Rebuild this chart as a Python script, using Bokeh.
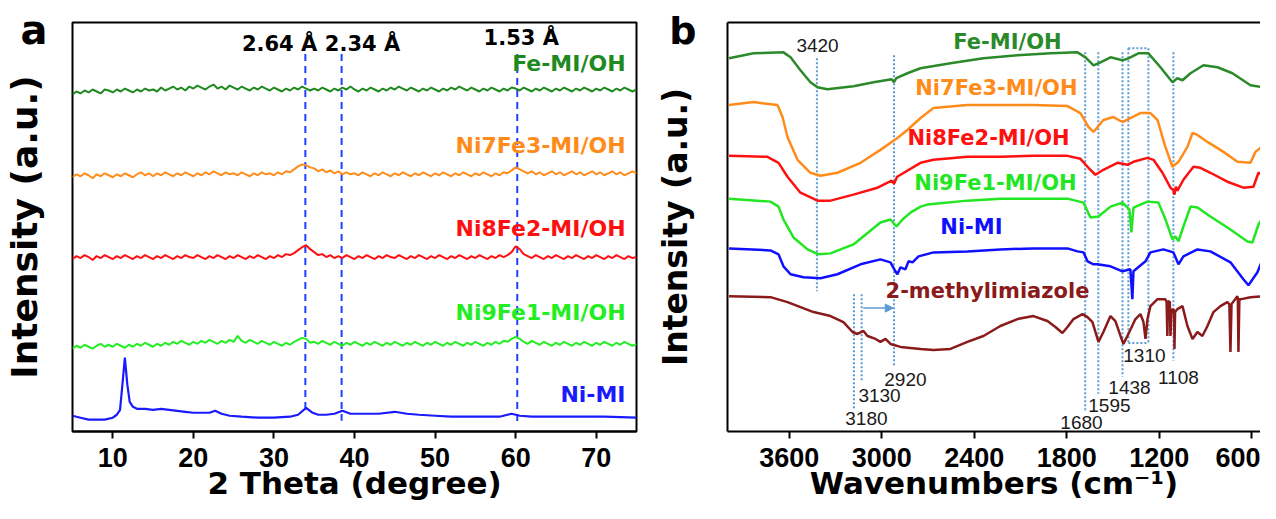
import math
from bokeh.plotting import figure
from bokeh.layouts import row
from bokeh.models import Range1d, FixedTicker, Label, Arrow, NormalHead, LinearAxis
from bokeh.embed import file_html
from bokeh.resources import INLINE

TITLE_FONT = "DejaVu Sans"
TICK_FONT = "Liberation Sans"

# ------------------------------------------------------------------ (a) XRD data
two_theta = [5.0 + 0.5 * i for i in range(141)]
xrd_ticks = [10, 20, 30, 40, 50, 60, 70]

fe_mi_oh_xrd = [
    342, 345, 343, 346, 344, 347, 345, 343, 347, 346,
    344, 347, 345, 348, 346, 344, 347, 345, 348, 346,
    347, 345, 349, 346, 348, 350, 347, 349, 346, 350,
    348, 351, 349, 347, 350, 352, 348, 350, 347, 351,
    349, 347, 350, 348, 346, 349, 347, 350, 348, 346,
    349, 347, 345, 348, 346, 349, 347, 350, 348, 346,
    348, 346, 349, 347, 345, 348, 346, 349, 347, 350,
    347, 345, 348, 346, 349, 347, 345, 348, 346, 349,
    347, 350, 348, 346, 349, 347, 345, 348, 346, 349,
    347, 345, 348, 346, 349, 347, 350, 348, 346, 349,
    347, 345, 348, 346, 349, 347, 345, 348, 346, 349,
    348, 346, 349, 347, 345, 348, 346, 349, 347, 345,
    348, 346, 349, 347, 345, 348, 346, 349, 347, 345,
    348, 346, 349, 347, 345, 348, 346, 349, 347, 345,
    347]
ni7fe3_xrd = [
    258, 261, 259, 262, 260, 257, 261, 259, 262, 260,
    258, 261, 259, 262, 260, 258, 261, 263, 260, 262,
    259, 262, 260, 263, 261, 259, 262, 260, 263, 261,
    259, 262, 260, 263, 261, 264, 262, 260, 263, 261,
    262, 260, 263, 261, 259, 262, 260, 263, 261, 262,
    260, 263, 261, 264, 263, 266, 269, 271, 270, 268,
    267, 264, 266, 263, 265, 262, 264, 261, 263, 261,
    262, 260, 263, 261, 259, 262, 260, 263, 261, 259,
    262, 260, 263, 261, 259, 262, 260, 263, 261, 259,
    262, 260, 263, 261, 259, 262, 260, 263, 261, 259,
    262, 260, 263, 261, 259, 262, 260, 263, 262, 265,
    268, 266, 264, 262, 264, 261, 263, 260, 262, 264,
    261, 263, 260, 262, 264, 261, 263, 260, 262, 264,
    261, 263, 260, 262, 264, 261, 263, 260, 262, 264,
    262]
ni8fe2_xrd = [
    175, 178, 176, 179, 177, 174, 178, 176, 179, 177,
    175, 178, 176, 179, 177, 175, 178, 176, 179, 177,
    175, 178, 176, 179, 177, 175, 178, 176, 179, 177,
    176, 179, 177, 175, 178, 176, 179, 177, 175, 178,
    176, 179, 177, 175, 178, 176, 179, 177, 175, 178,
    176, 179, 177, 180, 179, 181, 184, 187, 189, 185,
    182, 179, 180, 177, 179, 176, 178, 176, 179, 177,
    175, 178, 176, 179, 177, 175, 178, 176, 179, 177,
    176, 179, 177, 175, 178, 176, 179, 177, 175, 178,
    176, 179, 177, 175, 178, 176, 179, 177, 175, 178,
    176, 179, 177, 175, 178, 176, 179, 177, 179, 182,
    188, 185, 180, 178, 176, 179, 177, 175, 178, 176,
    179, 177, 175, 178, 176, 179, 177, 175, 178, 176,
    179, 177, 175, 178, 176, 179, 177, 175, 178, 176,
    177]
ni9fe1_xrd = [
    84, 87, 85, 88, 86, 84, 87, 89, 86, 88,
    86, 89, 87, 85, 88, 86, 89, 87, 90, 88,
    86, 89, 87, 90, 88, 91, 89, 92, 90, 88,
    91, 89, 92, 90, 93, 91, 89, 92, 90, 93,
    91, 97, 92, 90, 93, 91, 89, 92, 90, 88,
    91, 89, 87, 90, 88, 91, 93, 95, 94, 90,
    91, 89, 92, 90, 88, 91, 89, 87, 90, 88,
    91, 89, 87, 90, 88, 91, 89, 87, 90, 88,
    91, 89, 87, 90, 88, 91, 89, 87, 90, 88,
    91, 89, 87, 90, 88, 91, 89, 87, 90, 88,
    91, 89, 87, 90, 88, 91, 89, 92, 91, 94,
    96, 94, 91, 89, 92, 90, 88, 91, 89, 87,
    90, 88, 91, 89, 87, 90, 88, 91, 89, 87,
    90, 88, 91, 89, 87, 90, 88, 91, 89, 87,
    89]
ni_mi_2theta = [5, 6, 7, 8, 9, 10, 10.5, 10.9, 11.2, 11.5, 11.8, 12.1, 12.5, 13, 14,
                15, 16, 17, 18, 19, 20, 21, 22, 22.7, 23.5, 24.5, 26, 28, 30, 32,
                33, 34, 34.8, 35.5, 36.5, 37.5, 38.5, 39.5, 41, 43, 45, 46.5, 48, 50, 52,
                54, 56, 58, 59.5, 60.5, 62, 65, 68, 71, 75]
ni_mi_xrd = [16, 14, 12, 12, 12, 14, 17, 22, 48, 75, 48, 30, 25, 23, 23,
             22, 23, 22, 21, 20, 19, 19, 19, 21, 18, 16, 15, 14, 14, 15,
             17, 24, 19, 17, 17, 18, 21, 18, 18, 18, 20, 18, 17, 16, 15,
             15, 15, 15, 18, 16, 15, 15, 15, 15, 14]

xrd_names = ["Fe-MI/OH", "Ni7Fe3-MI/OH", "Ni8Fe2-MI/OH", "Ni9Fe1-MI/OH", "Ni-MI"]
xrd_colors = ["#1f8a1f", "#ff8c1a", "#ff1010", "#22ee22", "#1a1aff"]
xrd_name_y = [373, 290, 206, 121, 38]

d_spacing_labels = ["2.64 Å", "2.34 Å", "1.53 Å"]
d_peak_2theta = [33.9, 38.4, 60.2]
d_label_x = [30.7, 41.0, 60.7]
d_label_y = [393, 393, 399]
d_line_top = [383, 383, 383]
d_line_bottom = [18, 11, 10]

# ------------------------------------------------------------------ (b) FTIR data
fe_wn = [3990, 3831, 3637, 3591, 3527, 3462, 3416, 3352, 3183, 3053, 2935, 2920, 2905,
         2833, 2748, 2554, 2340, 2119, 1905, 1730, 1678, 1626, 1581, 1516, 1438, 1400,
         1335, 1270, 1192, 1114, 1082, 1049, 997, 913, 822, 725, 608, 524, 440]
fe_ir = [375, 380, 381, 376, 363, 351, 346, 344, 347, 351, 354, 351, 355,
         360, 365, 370, 375, 378, 380, 381, 376, 368, 371, 376, 373, 375,
         380, 380, 366, 351, 355, 353, 360, 368, 366, 360, 348, 346, 343]

ni7_wn = [3990, 3831, 3676, 3643, 3611, 3546, 3462, 3397, 3287, 3137, 3008, 2898, 2833,
          2748, 2664, 2444, 2230, 2016, 1795, 1711, 1659, 1626, 1562, 1497, 1438, 1387,
          1322, 1257, 1211, 1160, 1114, 1075, 1017, 984, 952, 887, 783, 693, 608, 576,
          543, 511, 440]
ni7_ir = [328, 331, 328, 316, 296, 273, 260, 257, 260, 270, 283, 295, 303,
          315, 325, 328, 328, 328, 327, 320, 306, 301, 313, 316, 311, 315,
          320, 320, 313, 286, 266, 271, 286, 300, 298, 291, 281, 271, 270, 281,
          285, 278, 276]

ni8_wn = [3990, 3741, 3669, 3611, 3527, 3416, 3332, 3183, 3027, 2935, 2920, 2900, 2878,
          2748, 2664, 2444, 2230, 2016, 1795, 1711, 1659, 1614, 1562, 1471, 1406, 1367,
          1276, 1237, 1179, 1127, 1110, 1101, 1092, 1082, 1043, 978, 933, 868, 758, 654,
          589, 556, 524, 440]
ni8_ir = [277, 276, 270, 256, 240, 232, 232, 238, 245, 252, 249, 256, 258,
          270, 273, 276, 276, 277, 277, 274, 265, 258, 263, 270, 268, 271,
          275, 273, 260, 245, 243, 238, 246, 242, 253, 266, 265, 260, 251, 245,
          246, 260, 258, 255]

ni9_wn = [3990, 3721, 3669, 3637, 3572, 3481, 3410, 3332, 3183, 3008, 2943, 2904, 2865,
          2813, 2748, 2703, 2444, 2230, 2016, 1795, 1691, 1646, 1594, 1516, 1438, 1393,
          1380, 1367, 1276, 1205, 1159, 1114, 1095, 1075, 1043, 997, 952, 868, 738, 628,
          595, 556, 524, 479, 440]
ni9_ir = [234, 231, 226, 213, 195, 183, 178, 179, 188, 210, 213, 206, 213,
          220, 226, 228, 232, 234, 234, 234, 230, 215, 216, 226, 230, 223,
          200, 225, 231, 230, 213, 193, 196, 191, 206, 226, 225, 216, 203, 191,
          190, 208, 216, 210, 206]

nimi_wn = [3990, 3721, 3669, 3637, 3591, 3507, 3397, 3287, 3137, 3008, 2943, 2911, 2898,
           2878, 2846, 2826, 2800, 2761, 2664, 2444, 2230, 2016, 1795, 1730, 1691, 1665,
           1626, 1601, 1516, 1438, 1387, 1374, 1367, 1289, 1257, 1173, 1108, 1075, 1043,
           952, 868, 738, 654, 621, 563, 511, 479, 440]
nimi_ir = [184, 182, 178, 166, 158, 155, 154, 158, 168, 173, 170, 161, 158,
           165, 163, 171, 170, 176, 180, 181, 183, 184, 184, 181, 180, 171,
           168, 168, 166, 161, 163, 133, 161, 171, 180, 183, 180, 168, 176,
           183, 181, 170, 153, 147, 160, 180, 175, 173]

hmim_wn = [3990, 3721, 3611, 3442, 3332, 3248, 3189, 3157, 3118, 3092, 3040, 3008, 2975,
           2943, 2878, 2748, 2664, 2554, 2444, 2340, 2230, 2119, 2016, 1925, 1873, 1828,
           1795, 1756, 1698, 1665, 1633, 1594, 1562, 1516, 1484, 1451, 1432, 1400, 1354,
           1322, 1302, 1289, 1276, 1257, 1211, 1160, 1152, 1147, 1143, 1131, 1127, 1120,
           1108, 1103, 1101, 1097, 1082, 1049, 1017, 984, 952, 920, 887, 848, 803, 758,
           745, 738, 731, 693, 690, 686, 680, 667, 608, 524, 440]
hmim_ir = [136, 135, 130, 120, 116, 110, 100, 98, 101, 96, 93, 90, 93,
           88, 85, 83, 82, 83, 90, 96, 106, 113, 116, 111, 105, 99,
           105, 113, 118, 115, 110, 90, 100, 116, 111, 96, 88, 98, 113,
           118, 110, 93, 113, 126, 133, 133, 130, 96, 131, 130, 96, 122,
           123, 118, 83, 120, 123, 126, 106, 93, 100, 96, 106, 120, 126, 130,
           128, 80, 128, 136, 133, 80, 133, 133, 135, 136, 138]

ir_ticks = [3600, 3000, 2400, 1800, 1200, 600]
ir_names = ["Fe-MI/OH", "Ni7Fe3-MI/OH", "Ni8Fe2-MI/OH", "Ni9Fe1-MI/OH", "Ni-MI", "2-methylimiazole"]
ir_colors = ["#2a8a2a", "#ff8c1a", "#ff1010", "#22e622", "#1010ff", "#8b1a1a"]
ir_name_x = [2184, 2256, 2307, 2262, 2418, 2314]
ir_name_y = [391, 345, 295, 250, 206, 141]

band_wn = [3420, 3180, 3130, 2920, 1680, 1595, 1438, 1400, 1270, 1108]
band_top = [375, 138, 138, 378, 381, 381, 381, 385, 385, 381]
band_bottom = [141, 23, 50, 66, 21, 38, 55, 89, 89, 71]
box_x0 = [1400, 1400]
box_x1 = [1270, 1270]
box_y = [385, 89]

band_labels = ["3420", "3180", "3130", "2920", "1680", "1595", "1438", "1310", "1108"]
band_label_x = [3416, 3099, 3014, 2846, 1704, 1523, 1393, 1296, 1075]
band_label_y = [388, 13, 36, 52, 9, 26, 44, 76, 54]

shift_from, shift_to, shift_level = 3120, 2925, 124

panel_letter_a_y = 407
panel_letter_b_y = 402

H = 503

# ------------------------------------------------------------------ helpers
def base_style(p):
    p.grid.visible = False
    p.background_fill_color = "white"
    p.border_fill_color = "white"
    for ax in p.xaxis:
        ax.major_tick_out = 7
        ax.major_tick_in = 0
        ax.minor_tick_out = 0
        ax.minor_tick_in = 0
        ax.major_tick_line_width = 2
        ax.major_tick_line_color = "black"
        ax.axis_line_width = 2
        ax.axis_line_color = "black"
        ax.major_label_text_font = TICK_FONT
        ax.major_label_text_font_style = "bold"
        ax.major_label_text_font_size = "27px"
        ax.major_label_text_color = "black"
        ax.major_label_standoff = 9
        ax.axis_label_text_font = TITLE_FONT
        ax.axis_label_text_font_style = "bold"
        ax.axis_label_text_font_size = "31px"
        ax.axis_label_text_color = "black"
        ax.axis_label_standoff = -5


def style_left_axis(ax, letter_pos, letter, letter_size, label_size, standoff, label_standoff,
                    line=True):
    ax.visible = True
    ax.ticker = FixedTicker(ticks=[letter_pos])
    ax.major_label_overrides = {letter_pos: letter}
    ax.major_label_orientation = "horizontal"
    ax.major_label_text_font = TITLE_FONT
    ax.major_label_text_font_style = "bold"
    ax.major_label_text_font_size = f"{letter_size}px"
    ax.major_label_text_color = "black"
    ax.major_label_standoff = standoff
    ax.major_tick_out = 0
    ax.major_tick_in = 0
    ax.minor_tick_out = 0
    ax.minor_tick_in = 0
    ax.major_tick_line_color = None
    if line:
        ax.axis_line_width = 2
        ax.axis_line_color = "black"
    else:
        ax.axis_line_color = None
    ax.axis_label = "Intensity (a.u.)"
    ax.axis_label_text_font = TITLE_FONT
    ax.axis_label_text_font_style = "bold"
    ax.axis_label_text_font_size = f"{label_size}px"
    ax.axis_label_text_color = "black"
    ax.axis_label_standoff = label_standoff


def add_label(p, x, y, text, size, color="black", bold=True, align="center",
              baseline="middle", font=TITLE_FONT):
    p.add_layout(Label(x=x, y=y, text=text, text_font=font,
                       text_font_size=f"{size}px",
                       text_font_style="bold" if bold else "normal",
                       text_color=color, text_align=align, text_baseline=baseline))

# ------------------------------------------------------------------ panel (a)
pa = figure(width=651, height=H, x_range=Range1d(5, 75), y_range=Range1d(0, 415),
            title=None, output_backend="svg", toolbar_location=None,
            min_border_left=72, min_border_right=15, min_border_top=18, min_border_bottom=70)
base_style(pa)
style_left_axis(pa.yaxis[0], panel_letter_a_y, "a", 40, 36, 25, -27, line=False)
pa.xaxis.ticker = FixedTicker(ticks=xrd_ticks)
pa.xaxis.axis_label = "2 Theta (degree)"
pa.outline_line_color = "black"
pa.outline_line_width = 2
pa.outline_line_alpha = 1.0

pa.segment(x0=d_peak_2theta, y0=d_line_top, x1=d_peak_2theta, y1=d_line_bottom,
           line_color="#2040ff", line_width=2, line_dash="7 5")

for vals, col in zip([fe_mi_oh_xrd, ni7fe3_xrd, ni8fe2_xrd, ni9fe1_xrd], xrd_colors[:4]):
    pa.line(two_theta, vals, line_color=col, line_width=2.0)
pa.line(ni_mi_2theta, ni_mi_xrd, line_color=xrd_colors[4], line_width=2.2)

for name, col, yy in zip(xrd_names, xrd_colors, xrd_name_y):
    add_label(pa, 73.64, yy, name, 22, color=col, align="right")
for t, xx, yy in zip(d_spacing_labels, d_label_x, d_label_y):
    add_label(pa, xx, yy, t, 21)

# ------------------------------------------------------------------ panel (b)
pb = figure(width=609, height=H, x_range=Range1d(4000, 543), y_range=Range1d(0, 411),
            title=None, output_backend="svg", toolbar_location=None,
            min_border_left=76, min_border_right=0, min_border_top=22, min_border_bottom=70)
base_style(pb)
pb.outline_line_color = None
style_left_axis(pb.yaxis[0], panel_letter_b_y, "b", 38, 33, 31, -29, line=True)
pb.xaxis.ticker = FixedTicker(ticks=ir_ticks)
pb.xaxis.axis_label = "Wavenumbers (cm⁻¹)"
top_axis = LinearAxis(ticker=FixedTicker(ticks=[]), major_label_text_font_size="0px",
                      major_label_standoff=0, major_tick_out=0, minor_tick_out=0,
                      axis_line_width=2, axis_line_color="black")
pb.add_layout(top_axis, "above")

pb.segment(x0=band_wn, y0=band_top, x1=band_wn, y1=band_bottom,
           line_color="#5b9bd5", line_width=2, line_dash="2 2")
pb.segment(x0=box_x0, y0=box_y, x1=box_x1, y1=box_y,
           line_color="#5b9bd5", line_width=2, line_dash="2 2")

ir_series = [(fe_wn, fe_ir), (ni7_wn, ni7_ir), (ni8_wn, ni8_ir), (ni9_wn, ni9_ir),
             (nimi_wn, nimi_ir), (hmim_wn, hmim_ir)]
for (xs, ys), col in zip(ir_series, ir_colors):
    pb.line(xs, ys, line_color=col, line_width=2.5)

pb.add_layout(Arrow(end=NormalHead(size=8, fill_color="#5b9bd5", line_color="#5b9bd5"),
                    x_start=shift_from, y_start=shift_level, x_end=shift_to, y_end=shift_level,
                    line_color="#5b9bd5", line_width=1.5))

for name, col, xx, yy in zip(ir_names, ir_colors, ir_name_x, ir_name_y):
    add_label(pb, xx, yy, name, 21, color=col)
for t, xx, yy in zip(band_labels, band_label_x, band_label_y):
    add_label(pb, xx, yy, t, 19, color="#1a1a1a", bold=False, font=TICK_FONT)

layout = row(pa, pb)
open("out.html", "w").write(file_html(layout, INLINE))
